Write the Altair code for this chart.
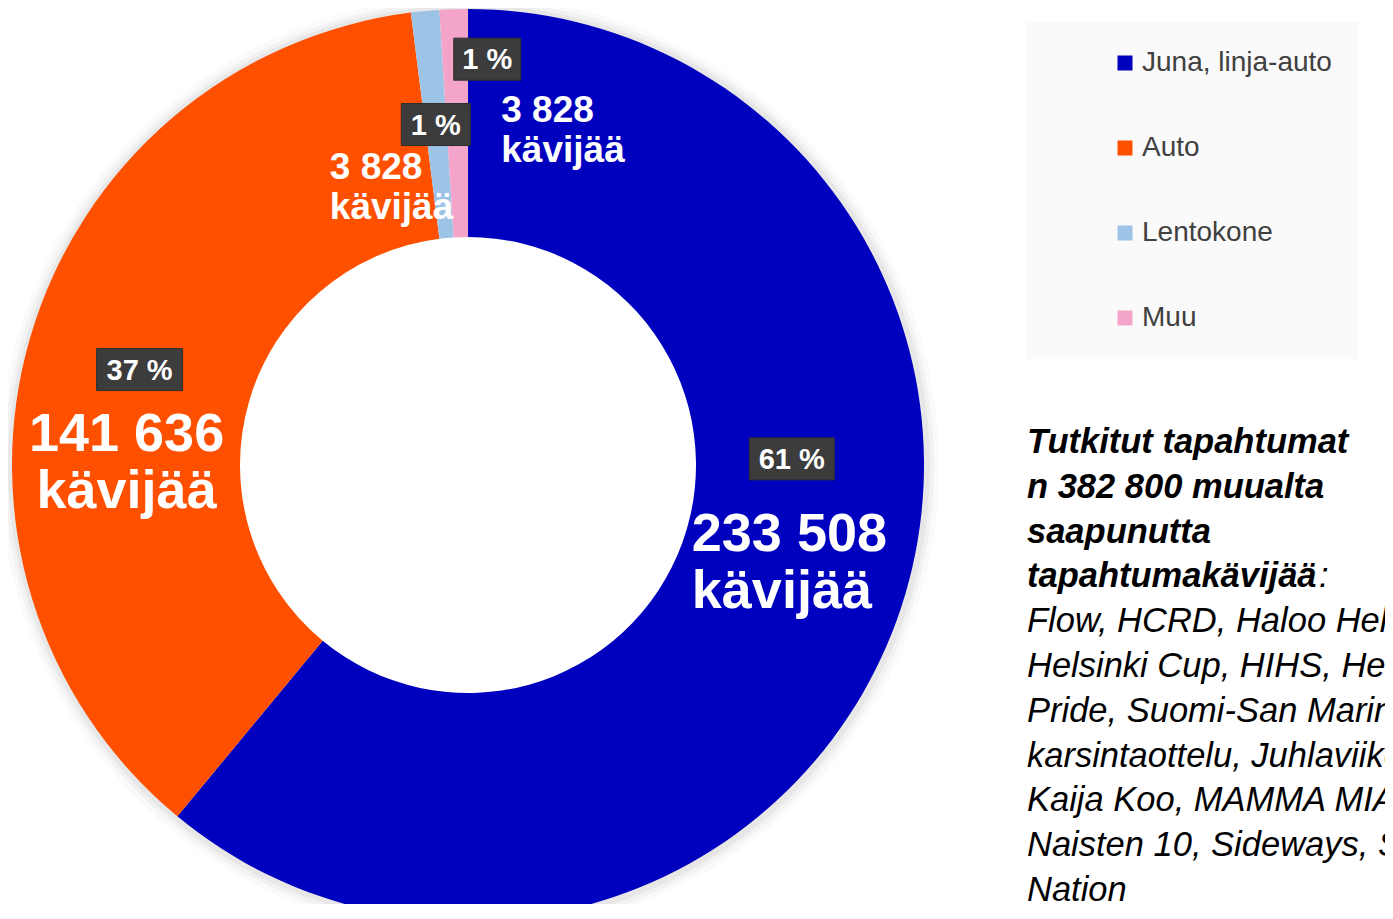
import altair as alt
import pandas as pd

# ---- data ----
categories = ["Juna, linja-auto", "Auto", "Lentokone", "Muu"]
visitors = [233508, 141636, 3828, 3828]
slice_order = [0, 1, 2, 3]
colors = ["#0000BF", "#FF5000", "#9DC3E6", "#F4A4C8"]

note_bold = ["Tutkitut tapahtumat", "n 382 800 muualta", "saapunutta", "tapahtumakävijää"]
note_regular = [
    "Flow, HCRD, Haloo Helsinki!,",
    "Helsinki Cup, HIHS, Helsinki",
    "Pride, Suomi-San Marino EM-",
    "karsintaottelu, Juhlaviikot,",
    "Kaija Koo, MAMMA MIA!,",
    "Naisten 10, Sideways, Summer",
    "Nation",
]

df = pd.DataFrame({"cat": categories, "value": visitors, "ord": slice_order})

# ---- geometry / style ----
W, H = 1377, 896
CX, CY = 460, 457
R_OUT, R_IN, R_LAB = 456, 228, 342
FONT = "Liberation Sans"
NOTE_FS = 34.5
NOTE_LH = 44.8
NOTE_X, NOTE_Y = 1019, 445

base = alt.Chart(df)
theta = alt.Theta("value:Q", stack=True)
order = alt.Order("ord:Q")

# soft glow around the ring
glow = [
    base.mark_arc(outerRadius=R_OUT + r, innerRadius=R_OUT - 2, color="#000000", opacity=op)
    .encode(theta=theta, order=order, x=alt.value(CX + 1), y=alt.value(CY + 1))
    for r, op in [(14, 0.018), (9, 0.03), (5, 0.045)]
]

ring = base.mark_arc(outerRadius=R_OUT, innerRadius=R_IN).encode(
    theta=theta,
    order=order,
    color=alt.Color(
        "cat:N",
        scale=alt.Scale(domain=categories, range=colors),
        sort=categories,
        legend=alt.Legend(
            title=None,
            orient="none",
            legendX=1019,
            legendY=14,
            fillColor="#FAFAFA",
            padding=27,
            symbolType="square",
            symbolSize=225,
            symbolStrokeWidth=0,
            symbolOffset=57,
            labelOffset=3,
            labelLimit=500,
            labelFont=FONT,
            labelFontSize=28,
            labelColor="#404040",
            rowPadding=57,
        ),
    ),
    x=alt.value(CX),
    y=alt.value(CY),
)

lab = (
    base.transform_joinaggregate(total="sum(value)")
    .transform_window(cum="sum(value)", sort=[alt.SortField("ord")], frame=[None, 0])
    .transform_calculate(
        mid="2*PI*(datum.cum - datum.value/2)/datum.total",
    )
    .transform_calculate(
        ax=f"{CX} + {R_LAB}*sin(datum.mid)",
        ay=f"{CY} - {R_LAB}*cos(datum.mid)",
        pct="round(100*datum.value/datum.total) + ' %'",
        num="replace(format(datum.value, ','), ',', ' ')",
    )
    .transform_calculate(vtxt="datum.num + '\\n' + 'kävijää'")
)

# per-slice label placement (box offset from slice midpoint, box width,
# value text offset, alignment, font size, line height)
placement = {
    "Juna, linja-auto": dict(bdx=2, bdy=-122, bw=85, tdx=-98, tdy=-30, align="left", fs=54, lh=57),
    "Auto": dict(bdx=0, bdy=0, bw=86, tdx=-13, tdy=81, align="center", fs=54, lh=57),
    "Lentokone": dict(bdx=0, bdy=0, bw=69, tdx=-106, tdy=54, align="left", fs=37, lh=40),
    "Muu": dict(bdx=30, bdy=-64, bw=67, tdx=44, tdy=-1, align="left", fs=37, lh=40),
}

boxes, pcts, values = [], [], []
for c in categories:
    p = placement[c]
    sub = lab.transform_filter(alt.datum.cat == c).transform_calculate(
        bx=f"datum.ax + {p['bdx']}", by=f"datum.ay + {p['bdy']}"
    )
    hw = p["bw"] / 2
    boxes.append(
        sub.transform_calculate(
            x1=f"datum.bx - {hw}", x2=f"datum.bx + {hw}", y1="datum.by - 21", y2="datum.by + 21"
        )
        .mark_rect(color="#3C3C3C", stroke="#2E2E2E", strokeWidth=1)
        .encode(
            x=alt.X("x1:Q", scale=None, axis=None),
            x2="x2:Q",
            y=alt.Y("y1:Q", scale=None, axis=None),
            y2="y2:Q",
        )
    )
    pcts.append(
        sub.mark_text(
            font=FONT, fontSize=29, fontWeight="bold", color="white",
            align="center", baseline="middle", dy=1,
        ).encode(
            x=alt.X("bx:Q", scale=None, axis=None),
            y=alt.Y("by:Q", scale=None, axis=None),
            text="pct:N",
        )
    )
    values.append(
        sub.mark_text(
            font=FONT, fontSize=p["fs"], fontWeight="bold", color="white",
            align=p["align"], baseline="alphabetic", lineBreak="\n", lineHeight=p["lh"],
            dx=p["tdx"], dy=p["tdy"],
        ).encode(
            x=alt.X("ax:Q", scale=None, axis=None),
            y=alt.Y("ay:Q", scale=None, axis=None),
            text="vtxt:N",
        )
    )

one = alt.Chart(pd.DataFrame({"k": [0]}))
note1 = one.mark_text(
    text=note_bold, font=FONT, fontSize=NOTE_FS, fontWeight="bold", fontStyle="italic",
    color="black", align="left", baseline="alphabetic", lineHeight=NOTE_LH,
).encode(x=alt.value(NOTE_X), y=alt.value(NOTE_Y))
# the colon after the bold heading is set in regular italic, as in the original
colon = one.mark_text(
    text="tapahtumakävijää", font=FONT, fontSize=NOTE_FS, fontWeight="bold", fontStyle="italic",
    color="black", align="left", baseline="alphabetic", opacity=0,
).encode(x=alt.value(NOTE_X), y=alt.value(NOTE_Y + 3 * NOTE_LH))
colon_txt = one.mark_text(
    text=":", font=FONT, fontSize=NOTE_FS, fontStyle="italic",
    color="black", align="left", baseline="alphabetic", dx=292,
).encode(x=alt.value(NOTE_X), y=alt.value(NOTE_Y + 3 * NOTE_LH))
note2 = one.mark_text(
    text=note_regular, font=FONT, fontSize=NOTE_FS, fontStyle="italic",
    color="black", align="left", baseline="alphabetic", lineHeight=NOTE_LH,
).encode(x=alt.value(NOTE_X), y=alt.value(NOTE_Y + 4 * NOTE_LH))

chart = (
    alt.layer(*glow, ring, *boxes, *pcts, *values, note1, colon_txt, note2)
    .properties(width=W, height=H, padding=0, autosize="none", background="white")
    .configure_view(stroke=None)
)

chart.save("out.html", embed_options={"renderer": "svg", "actions": False})
